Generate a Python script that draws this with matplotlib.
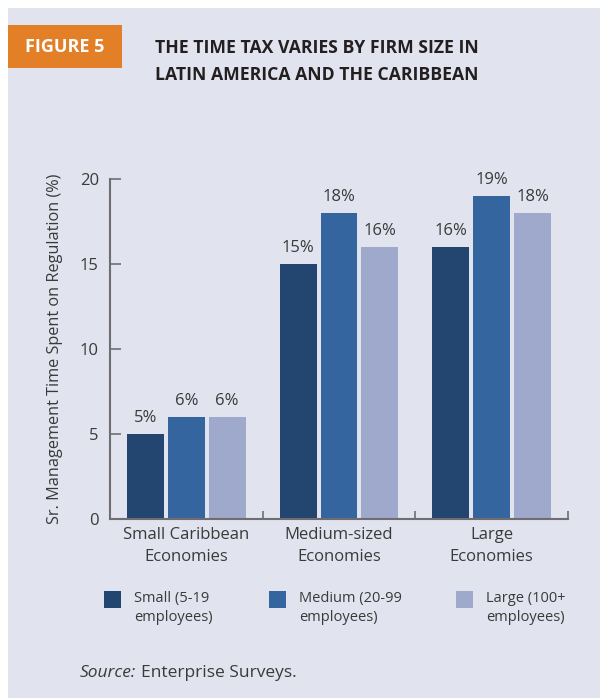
import matplotlib.pyplot as plt
import matplotlib.patches as patches
import numpy as np

plt.rcParams['font.family'] = ['Open Sans', 'DejaVu Sans']

groups = ['Small Caribbean\nEconomies', 'Medium-sized\nEconomies', 'Large\nEconomies']
series = ['Small (5-19\nemployees)', 'Medium (20-99\nemployees)', 'Large (100+\nemployees)']
small = [5, 15, 16]
medium = [6, 18, 19]
large = [6, 16, 18]
colors = ['#22466F', '#35659E', '#9EA9CB']

bg = '#E1E3EE'
txt = '#3A3A3A'
axis_col = '#6E6E72'

fig = plt.figure(figsize=(6, 6.98), dpi=100)
fig.patch.set_facecolor('white')
fig.patches.append(patches.Rectangle((8 / 600, 0), 1, 1 - 8 / 698, transform=fig.transFigure,
                                     facecolor=bg, edgecolor='none', zorder=-10))

# header block
fig.patches.append(patches.Rectangle((8 / 600, 1 - 68 / 698), 114 / 600, 43 / 698,
                                     transform=fig.transFigure, facecolor='#E37F27',
                                     edgecolor='none', zorder=-5))
fig.text(65 / 600, 1 - 47 / 698, 'FIGURE 5', color='white', fontsize=13, fontweight='bold',
         ha='center', va='center')
fig.text(155 / 600, 1 - 48 / 698, 'THE TIME TAX VARIES BY FIRM SIZE IN', color='#231F20',
         fontsize=12.7, fontweight='bold', ha='left', va='center')
fig.text(155 / 600, 1 - 75 / 698, 'LATIN AMERICA AND THE CARIBBEAN', color='#231F20',
         fontsize=12.7, fontweight='bold', ha='left', va='center')

ax = fig.add_axes([110 / 600, 1 - 519 / 698, 458 / 600, 340 / 698])
ax.patch.set_alpha(0)

x = np.arange(len(groups)) + 0.5
width = 0.242
step = 0.268
for i, (vals, c) in enumerate(zip([small, medium, large], colors)):
    bars = ax.bar(x + (i - 1) * step, vals, width, color=c, label=series[i], zorder=2)
    for b, v in zip(bars, vals):
        ax.annotate(f'{v}%', (b.get_x() + b.get_width() / 2, v), xytext=(0, 6),
                    textcoords='offset points', ha='center', va='bottom',
                    fontsize=12, color=txt)

ax.set_xlim(0, 3)
ax.set_ylim(0, 20)
ax.set_yticks([0, 5, 10, 15, 20])
ax.set_xticks(x)
ax.set_xticklabels(groups, fontsize=12, color=txt, linespacing=1.45)
ax.set_xticks([1, 2, 3], minor=True)
ax.tick_params(axis='x', which='major', length=0, pad=6)
ax.tick_params(axis='x', which='minor', direction='in', length=6, color=axis_col, width=1.2)
ax.tick_params(axis='y', direction='in', length=8, color=axis_col, width=1.2,
               labelsize=12, labelcolor=txt, pad=8)
for s in ['top', 'right']:
    ax.spines[s].set_visible(False)
for s in ['left', 'bottom']:
    ax.spines[s].set_color(axis_col)
    ax.spines[s].set_linewidth(1.5)
ax.set_ylabel('Sr. Management Time Spent on Regulation (%)', fontsize=11.7, color=txt,
              labelpad=12)

# legend
leg_x = [104, 269, 456]
for lx, lab, c in zip(leg_x, series, colors):
    fig.patches.append(patches.Rectangle((lx / 600, 1 - 608 / 698), 17 / 600, 17 / 698,
                                         transform=fig.transFigure, facecolor=c,
                                         edgecolor='none'))
    fig.text((lx + 30) / 600, 1 - 591 / 698, lab, fontsize=10.5, color=txt, ha='left',
             va='top', linespacing=1.35)

fig.text(80 / 600, 1 - 673 / 698, 'Source:', fontsize=12.5, color=txt, style='italic',
         ha='left', va='center')
fig.text(141 / 600, 1 - 673 / 698, 'Enterprise Surveys.', fontsize=12.5, color=txt,
         ha='left', va='center')

fig.savefig('out.png', dpi=100, facecolor=fig.get_facecolor())
